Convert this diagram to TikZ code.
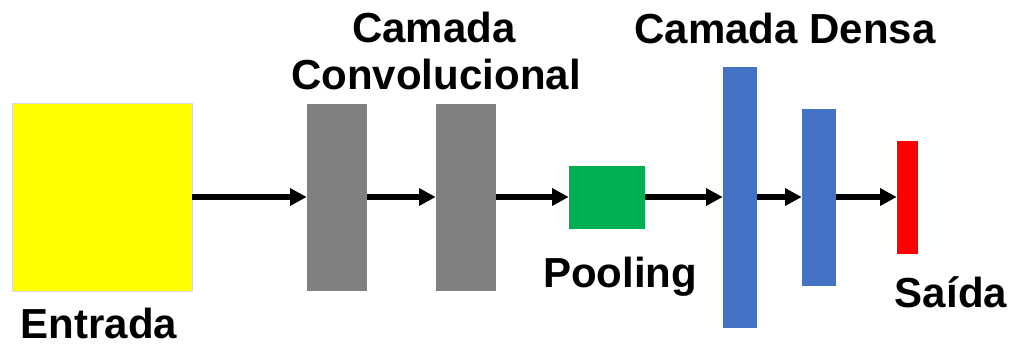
\documentclass[tikz,border=0pt]{standalone}
\usepackage{fontspec}
\setmainfont{Liberation Sans}
\usetikzlibrary{arrows.meta}
\definecolor{inyellow}{HTML}{FFFF00}
\definecolor{convgray}{HTML}{808080}
\definecolor{poolgreen}{HTML}{00B050}
\definecolor{denseblue}{HTML}{4472C4}
\definecolor{outred}{HTML}{FF0000}
\begin{document}
\begin{tikzpicture}[x=0.75pt,y=-0.75pt,
  layer/.style={rectangle,inner sep=0pt,draw=none},
  flow/.style={line width=3.8pt,-{Triangle[length=12.5pt,width=12.5pt]}},
  lbl/.style={font=\fontsize{31.5pt}{36pt}\selectfont\bfseries,anchor=base,inner sep=0pt}]
  \useasboundingbox (0,0) rectangle (1011,347);
  % layers of the network, all centred on one horizontal axis
  \node[layer,fill=inyellow,draw=black!15,line width=0.5pt,minimum width=135pt,minimum height=141pt] (in) at (102,197) {};
  \node[layer,fill=convgray,minimum width=45pt,minimum height=140.25pt] (c1) at (337,197) {};
  \node[layer,fill=convgray,minimum width=45pt,minimum height=140.25pt] (c2) at (466,197) {};
  \node[layer,fill=poolgreen,minimum width=57pt,minimum height=47.25pt] (pool) at (607,197) {};
  \node[layer,fill=denseblue,minimum width=25.5pt,minimum height=195.75pt] (d1) at (740,197) {};
  \node[layer,fill=denseblue,minimum width=25.5pt,minimum height=132.75pt] (d2) at (819,197) {};
  \node[layer,fill=outred,minimum width=15.75pt,minimum height=84.75pt] (out) at (907.5,197) {};
  % connections
  \draw[flow] (in.east) -- (c1.west);
  \draw[flow] (c1.east) -- (c2.west);
  \draw[flow] (c2.east) -- (pool.west);
  \draw[flow] (pool.east) -- (d1.west);
  \draw[flow] (d1.east) -- (d2.west);
  \draw[flow] (d2.east) -- (out.west);
  % labels
  \node[lbl] (tin) at (99,338) {Entrada};
  \node[lbl] (tc1) at (434,42) {Camada};
  \node[lbl] (tc2) at (436,89) {Convolucional};
  \node[lbl] (tpool) at (620,287) {Pooling};
  \node[lbl] (tdense) at (785,43) {Camada Densa};
  \node[lbl] (tout) at (951,307) {Saída};
\end{tikzpicture}
\end{document}
